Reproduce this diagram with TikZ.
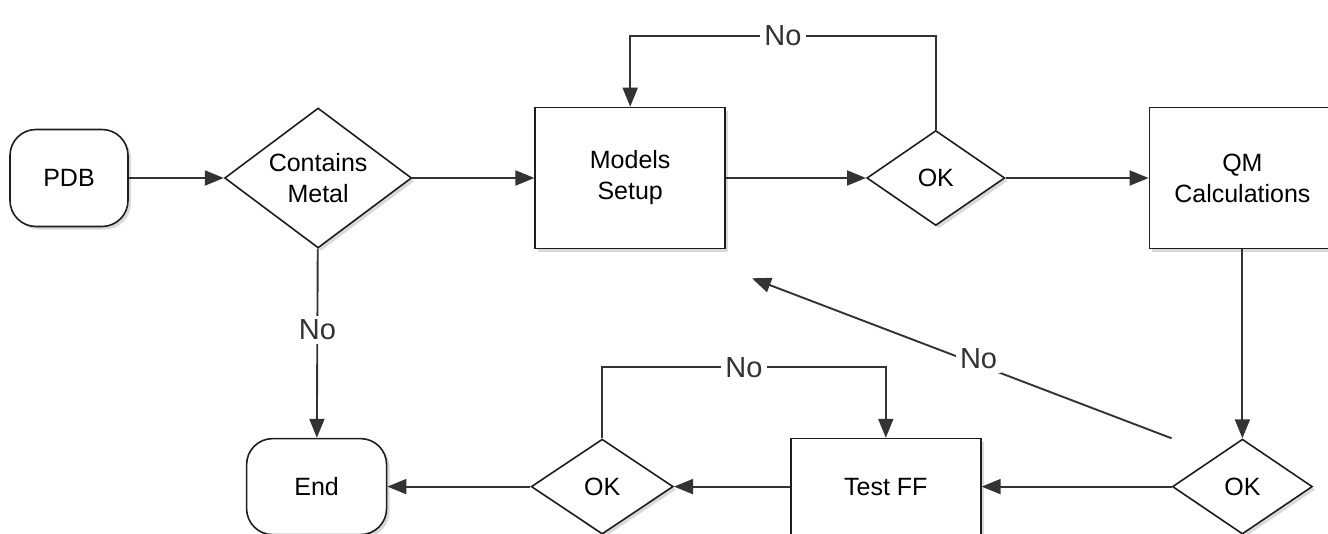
\documentclass[tikz,border=0pt]{standalone}
\usepackage{fontspec}
\setmainfont{Liberation Sans}
\usetikzlibrary{arrows.meta,positioning,shapes.geometric,shadows}
\definecolor{edge}{HTML}{1E1E1E}
\definecolor{wire}{HTML}{333333}

\begin{document}
\begin{tikzpicture}[x=1pt, y=-1pt,
  every node/.style={font=\fontsize{25}{31}\selectfont, align=center},
  boxshadow/.style={drop shadow={shadow xshift=3pt, shadow yshift=-3pt, opacity=0.3}},
  terminal/.style={rectangle, rounded corners=26pt, draw=edge, fill=white, line width=1.6pt, boxshadow},
  process/.style={rectangle, draw=edge, fill=white, line width=1.6pt, boxshadow},
  decision/.style={diamond, aspect=1.4, inner sep=0pt, draw=edge, fill=white, line width=1.6pt, boxshadow},
  arrow/.style={-{Triangle[length=19pt, width=15pt]}, line width=1.9pt, color=wire},
  nolabel/.style={fill=white, inner sep=4pt, font=\fontsize{29}{31}\selectfont},
]
\useasboundingbox (0,0) rectangle (1328,533);

% Top row — left to right
\node[terminal, minimum width=118pt, minimum height=97pt] (pdb) at (69,178) {PDB};
\node[decision, minimum width=187pt, minimum height=140pt, right=95pt of pdb] (metal) {Contains\\Metal};
\node[process, minimum width=190pt, minimum height=141pt, right=122pt of metal] (models) {Models\\Setup};
\node[decision, minimum width=138pt, minimum height=95pt, right=140pt of models] (okA) {OK};
\node[process, minimum width=186pt, minimum height=141pt, right=143pt of okA] (qm) {QM\\Calculations};

% Bottom row — right to left
\node[decision, minimum width=140pt, minimum height=95pt, below=189pt of qm] (okB) {OK};
\node[process, minimum width=190pt, minimum height=96pt, left=190pt of okB] (testff) {Test FF};
\node[decision, minimum width=142pt, minimum height=95pt, left=116pt of testff] (okC) {OK};
\node[terminal, minimum width=140pt, minimum height=96pt, left=143pt of okC] (end) {End};

% Main flow
\draw[arrow] (pdb) -- (metal);
\draw[arrow] (metal) -- (models);
\draw[arrow] (models) -- (okA);
\draw[arrow] (okA) -- (qm);
\draw[arrow] (qm) -- (okB);
\draw[arrow] (okB) -- (testff);
\draw[arrow] (testff) -- (okC);
\draw[arrow] (okC) -- (end);

% No branches
\draw[arrow] (metal) -- node[pos=0.43, nolabel] {No} (end);
\draw[arrow] (okA.north) -- ++(0,-94) -| node[pos=0.25, nolabel] {No} (models.north);
\draw[arrow] (okC.north) -- ++(0,-71) -| node[pos=0.25, nolabel] {No} (testff.north);

% Back to setup — free end below the box
\coordinate (backtip) at ([xshift=26pt, yshift=-29pt]models.south east);
\draw[arrow] (okB.west |- okB.north) -- node[pos=0.46, nolabel, yshift=6pt] {No} (backtip);

\end{tikzpicture}
\end{document}
